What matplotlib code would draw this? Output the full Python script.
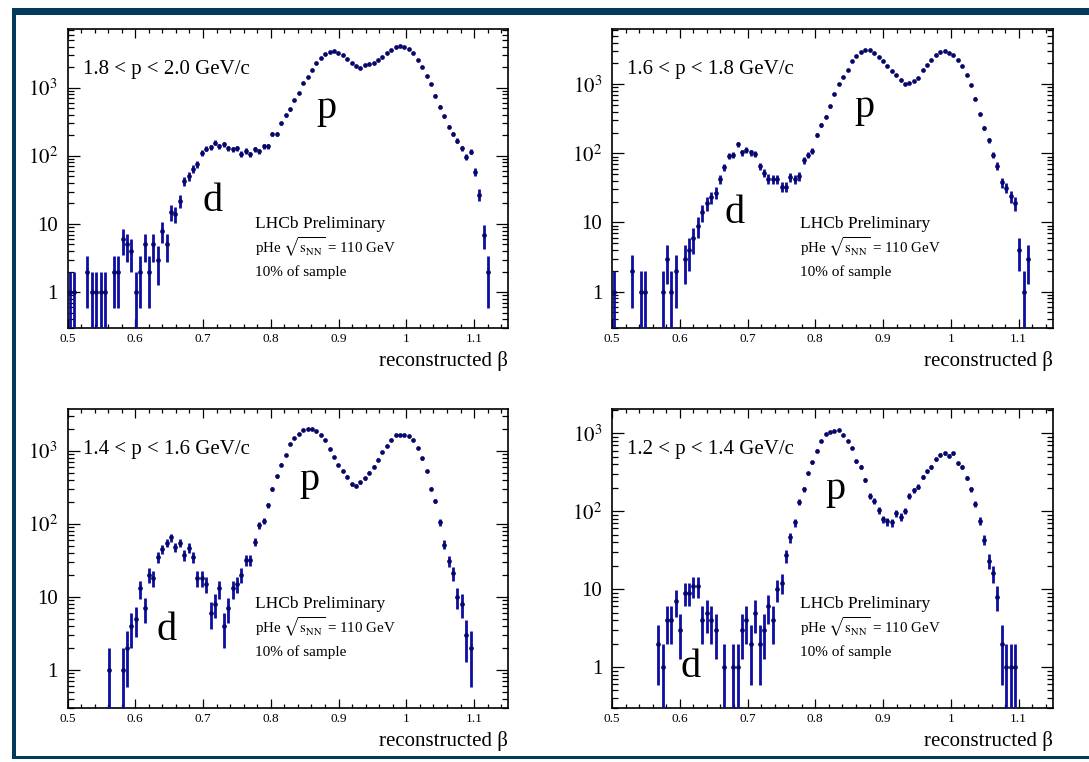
import numpy as np
import matplotlib
matplotlib.use('Agg')
import matplotlib.pyplot as plt
from matplotlib.patches import Rectangle
from matplotlib.ticker import FixedLocator, LogLocator, NullFormatter, MultipleLocator

plt.rcParams['font.family'] = ['Liberation Serif', 'DejaVu Serif']
plt.rcParams['mathtext.fontset'] = 'stix'

# histogram binning of reconstructed beta
beta_lo = 0.5
beta_hi = 1.15
n_bins = 100

beta_ticks = [0.5, 0.6, 0.7, 0.8, 0.9, 1.0, 1.1]
beta_ticklabels = ['0.5', '0.6', '0.7', '0.8', '0.9', '1', '1.1']
count_ticks = [1, 10, 100, 1000]
count_ticklabels = ['1', '10', r'$10^{2}$', r'$10^{3}$']

# counts per bin, 100 bins each
counts_18_20 = [
    1, 1, 0, 0, 2, 1, 1, 1, 1, 0,
    2, 2, 6, 5, 4, 1, 2, 5, 2, 5,
    3, 8, 5, 15, 14, 22, 43, 50, 65, 75,
    110, 128, 133, 157, 138, 147, 130, 125, 130, 108,
    118, 105, 125, 117, 140, 140, 208, 208, 300, 395,
    485, 660, 850, 1160, 1440, 1820, 2330, 2760, 3090, 3340,
    3460, 3270, 2990, 2660, 2330, 2080, 1980, 2150, 2200, 2300,
    2550, 2850, 3200, 3600, 3950, 4100, 4000, 3700, 3200, 2600,
    2050, 1500, 1120, 770, 530, 380, 270, 213, 168, 129,
    97, 116, 58, 27, 7, 2, 0, 0, 0, 0]

counts_16_18 = [
    1, 0, 0, 0, 2, 0, 1, 1, 0, 0,
    0, 1, 3, 1, 2, 0, 3, 4, 6, 9,
    14, 19, 23, 27, 42, 63, 92, 95, 135, 103,
    113, 103, 98, 65, 52, 43, 42, 42, 33, 33,
    45, 42, 47, 80, 95, 108, 185, 260, 340, 480,
    730, 1000, 1280, 1620, 2140, 2530, 2920, 3160, 3090, 2830,
    2480, 2170, 1820, 1560, 1350, 1170, 1020, 1045, 1120, 1250,
    1590, 1880, 2270, 2680, 2920, 3030, 2830, 2630, 2270, 1820,
    1350, 968, 621, 369, 230, 155, 96, 66, 38, 32,
    24, 19, 4, 1, 3, 0, 0, 0, 0, 0]

counts_14_16 = [
    0, 0, 0, 0, 0, 0, 0, 0, 0, 1,
    0, 0, 1, 2, 4, 5, 13, 7, 20, 18,
    35, 45, 55, 65, 48, 55, 37, 47, 35, 18,
    18, 15, 6, 8, 13, 4, 7, 13, 15, 20,
    32, 32, 57, 95, 110, 180, 300, 450, 650, 870,
    1250, 1520, 1720, 1910, 2010, 1970, 1850, 1640, 1400, 1050,
    830, 640, 530, 440, 350, 335, 370, 420, 505, 610,
    760, 970, 1170, 1430, 1640, 1670, 1670, 1600, 1430, 1100,
    790, 530, 305, 205, 105, 52, 31, 21, 10, 8,
    3, 2, 0, 0, 0, 0, 0, 0, 0, 0]

counts_12_14 = [
    0, 0, 0, 0, 0, 0, 0, 0, 0, 0,
    2, 1, 4, 4, 7, 3, 9, 9, 11, 11,
    4, 5, 4, 3, 0, 1, 0, 1, 1, 3,
    4, 2, 5, 2, 3, 6, 4, 10, 12, 27,
    46, 72, 130, 190, 305, 425, 600, 800, 980, 1040,
    1070, 1100, 960, 790, 650, 436, 372, 250, 158, 134,
    103, 79, 74, 72, 94, 85, 101, 158, 187, 206,
    277, 324, 372, 467, 531, 553, 516, 553, 411, 372,
    266, 192, 125, 75, 43, 23, 16, 8, 2, 1,
    1, 1, 0, 0, 0, 0, 0, 0, 0, 0]

momentum_labels = ['1.8 < p < 2.0 GeV/c', '1.6 < p < 1.8 GeV/c',
                   '1.4 < p < 1.6 GeV/c', '1.2 < p < 1.4 GeV/c']
all_counts = [counts_18_20, counts_16_18, counts_14_16, counts_12_14]
y_tops = [7300, 6300, 3760, 2050]

# placement of the axes in pixels (left, top) and of the text labels
W, H = 1089, 762
ax_w, ax_h = 440.5, 298.7
ax_pos = [(67.5, 29), (612, 29), (67.5, 409), (612, 409)]
p_pos = [(0.588, 0.701), (0.573, 0.706), (0.550, 0.729), (0.508, 0.699)]
d_pos = [(0.330, 0.391), (0.279, 0.350), (0.224, 0.227), (0.178, 0.103)]
lhcb_x = [0.4257, 0.4268, 0.4257, 0.4268]

bar_col = '#0d0da2'
mark_col = '#07076a'
frame_col = '#03395c'

fig = plt.figure(figsize=(W / 100, H / 100), dpi=100)


def px_rect(x0, y0, x1, y1):
    return Rectangle((x0 / W, 1 - y1 / H), (x1 - x0) / W, (y1 - y0) / H,
                     transform=fig.transFigure, color=frame_col, lw=0, zorder=0)


fig.add_artist(px_rect(12, 8, W, 15))
fig.add_artist(px_rect(12, 8, 16, 759))
fig.add_artist(px_rect(12, 756, W, 759))

width = (beta_hi - beta_lo) / n_bins
centers = beta_lo + width * (np.arange(n_bins) + 0.5)

for i in range(4):
    x0, y0 = ax_pos[i]
    ax = fig.add_axes([x0 / W, 1 - (y0 + ax_h) / H, ax_w / W, ax_h / H])
    counts = np.array(all_counts[i], dtype=float)
    m = counts > 0
    y = counts[m]
    err = np.sqrt(y)
    lower = np.minimum(err, y - 1e-3)
    ax.errorbar(centers[m], y, yerr=[lower, err], fmt='o', ms=3.4,
                mfc=mark_col, mec=mark_col, mew=0, ecolor=bar_col,
                elinewidth=2.0, capsize=0, zorder=3)

    ax.set_yscale('log')
    ax.set_xlim(beta_lo, beta_hi)
    ax.set_ylim(0.3, y_tops[i])

    ax.xaxis.set_major_locator(FixedLocator(beta_ticks))
    ax.set_xticklabels(beta_ticklabels)
    ax.xaxis.set_minor_locator(MultipleLocator(0.02))
    ax.yaxis.set_major_locator(FixedLocator(count_ticks))
    ax.set_yticklabels(count_ticklabels)
    ax.yaxis.set_minor_locator(LogLocator(base=10, subs=np.arange(2, 10), numticks=30))
    ax.yaxis.set_minor_formatter(NullFormatter())

    ax.tick_params(which='both', direction='in', top=True, right=True, width=0.9)
    ax.tick_params(axis='x', which='major', length=6.5, labelsize=9.5, pad=4)
    ax.tick_params(axis='x', which='minor', length=3.2)
    ax.tick_params(axis='y', which='major', length=8.5, labelsize=15, pad=7)
    ax.tick_params(axis='y', which='minor', length=4.3)
    for s in ax.spines.values():
        s.set_linewidth(1.2)

    ax.text(0.035, 0.848, momentum_labels[i], transform=ax.transAxes,
            fontsize=15, ha='left', va='baseline')
    ax.text(p_pos[i][0], p_pos[i][1], 'p', transform=ax.transAxes,
            fontsize=29, ha='center', va='baseline')
    ax.text(d_pos[i][0], d_pos[i][1], 'd', transform=ax.transAxes,
            fontsize=29, ha='center', va='baseline')
    ax.text(lhcb_x[i], 0.334, 'LHCb Preliminary', transform=ax.transAxes,
            fontsize=12.5, ha='left', va='baseline')
    ax.text(lhcb_x[i], 0.250, r'pHe $\sqrt{\mathrm{s}_{\mathrm{NN}}}$ = 110 GeV',
            transform=ax.transAxes, fontsize=10.8, ha='left', va='baseline')
    ax.text(lhcb_x[i], 0.173, '10% of sample', transform=ax.transAxes,
            fontsize=11, ha='left', va='baseline')
    ax.text(1.0, -0.128, 'reconstructed β', transform=ax.transAxes,
            fontsize=15, ha='right', va='baseline')

fig.savefig('out.png', dpi=100)
